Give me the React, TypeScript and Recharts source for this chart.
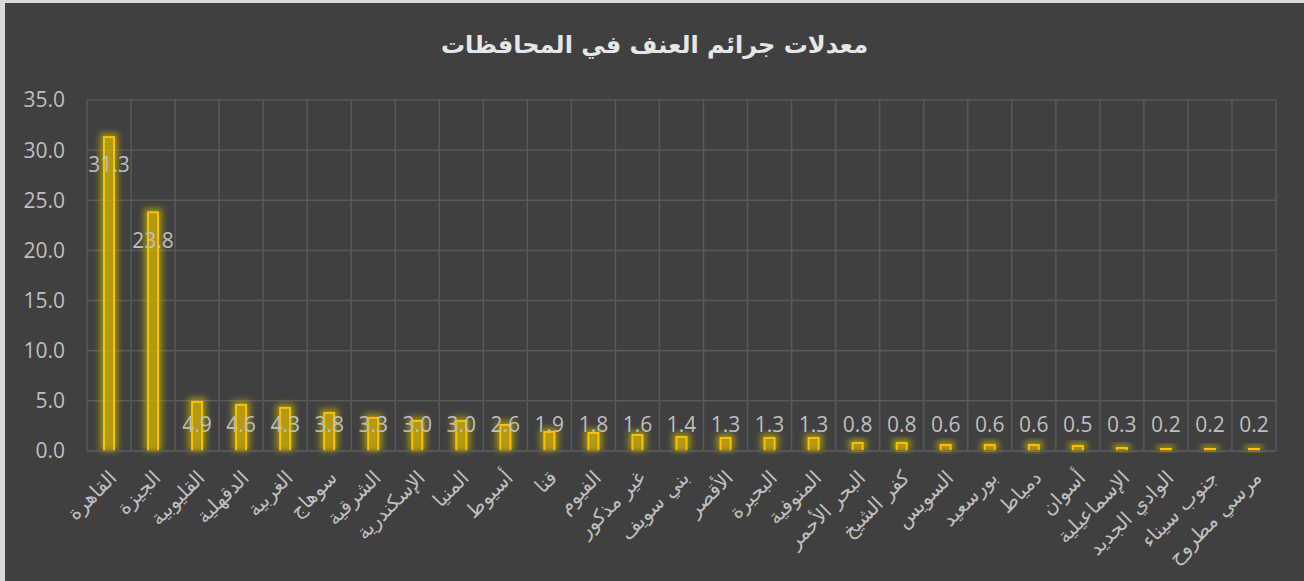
import { BarChart, Bar, XAxis, YAxis, CartesianGrid, LabelList } from 'recharts';

const governorates = [
  'القاهرة', 'الجيزة', 'القليوبية', 'الدقهلية', 'الغربية', 'سوهاج', 'الشرقية',
  'الإسكندرية', 'المنيا', 'أسيوط', 'قنا', 'الفيوم', 'غير مذكور', 'بني سويف',
  'الأقصر', 'البحيرة', 'المنوفية', 'البحر الأحمر', 'كفر الشيخ', 'السويس',
  'بورسعيد', 'دمياط', 'أسوان', 'الإسماعيلية', 'الوادي الجديد', 'جنوب سيناء', 'مرسي مطروح',
];

const rates = [
  31.3, 23.8, 4.9, 4.6, 4.3, 3.8, 3.3, 3.0, 3.0, 2.6, 1.9, 1.8, 1.6, 1.4,
  1.3, 1.3, 1.3, 0.8, 0.8, 0.6, 0.6, 0.6, 0.5, 0.3, 0.2, 0.2, 0.2,
];

const yTicks = [0, 5, 10, 15, 20, 25, 30, 35];

const chartTitle = 'معدلات جرائم العنف في المحافظات';

const data = governorates.map((name, i) => ({ name, rate: rates[i] }));

const textGray = '#bfbfbf';
const gold = '#FFC000';

// bar with a soft yellow glow behind it, like excel's glow effect
const GlowBar = (props: any) => {
  const { x, y, width, height } = props;
  if (height == null || height <= 0) return null;
  return (
    <g>
      <rect
        x={x - 4}
        y={y - 4}
        width={width + 8}
        height={height + 4}
        fill="#d8c400"
        opacity={0.6}
        filter="url(#barGlow)"
      />
      <rect
        x={x}
        y={y}
        width={width}
        height={height}
        fill={gold}
        fillOpacity={0.25}
        stroke={gold}
        strokeWidth={2}
      />
    </g>
  );
};

// value label sits inside the top of the bar, but never lower than just above the axis
const ValueLabel = (props: any) => {
  const { x, y, width, height, value } = props;
  const ly = Math.min(y + 28, y + height - 26);
  return (
    <text
      x={x + width / 2}
      y={ly}
      dy="0.35em"
      textAnchor="middle"
      fill={textGray}
      fontSize={21}
      fontFamily="'Open Sans', sans-serif"
    >
      {Number(value).toFixed(1)}
    </text>
  );
};

const CityTick = (props: any) => {
  const { x, y, payload } = props;
  return (
    <g transform={`translate(${x + 4},${y + 23})`}>
      <text
        transform="rotate(-45)"
        textAnchor="end"
        dy="0.35em"
        fill={textGray}
        fontSize={20}
        fontFamily="'DejaVu Sans', sans-serif"
      >
        {payload.value}
      </text>
    </g>
  );
};

export default function App() {
  const n = governorates.length;

  return (
    <div style={{ position: 'absolute', left: 0, top: 0, width: 1304, height: 581, background: '#d9d9d9' }}>
      <div style={{ position: 'absolute', left: 5, top: 3, width: 1299, height: 578, background: '#404040' }}>
        <div
          style={{
            position: 'absolute',
            top: 24,
            left: 0,
            width: '100%',
            textAlign: 'center',
            lineHeight: '36px',
            fontSize: 24,
            fontWeight: 'bold',
            color: '#e6e6e6',
            fontFamily: "'DejaVu Sans', sans-serif",
          }}
        >
          {chartTitle}
        </div>
        <BarChart
          width={1299}
          height={578}
          data={data}
          margin={{ top: 97, right: 28, left: 0, bottom: 0 }}
        >
          <defs>
            <filter id="barGlow" x="-100%" y="-20%" width="300%" height="140%">
              <feGaussianBlur stdDeviation="3" />
            </filter>
          </defs>
          <CartesianGrid
            stroke="#595959"
            strokeWidth={1.5}
            verticalCoordinatesGenerator={({ offset }: any) =>
              Array.from({ length: n + 1 }, (_, i) => offset.left + (offset.width * i) / n)
            }
          />
          <XAxis
            dataKey="name"
            interval={0}
            height={130}
            tickLine={false}
            tickSize={0}
            tickMargin={0}
            axisLine={{ stroke: '#595959', strokeWidth: 1.5 }}
            tick={<CityTick />}
          />
          <YAxis
            domain={[0, 35]}
            ticks={yTicks}
            width={82}
            axisLine={false}
            tickLine={false}
            tickSize={0}
            tickMargin={22}
            tickFormatter={(v: number) => v.toFixed(1)}
            tick={{ fill: textGray, fontSize: 21, fontFamily: "'Open Sans', sans-serif" }}
          />
          <Bar dataKey="rate" barSize={10} shape={<GlowBar />} isAnimationActive={false}>
            <LabelList dataKey="rate" content={<ValueLabel />} />
          </Bar>
        </BarChart>
      </div>
    </div>
  );
}
